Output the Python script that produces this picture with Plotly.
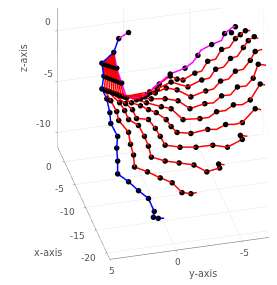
import plotly.graph_objects as go

PLANE_X = -15.0

# Every curve: y and z values. Listed from the top of the curve to its tail.
blue_y = [3.31,3.68,4.58,4.43,4.58,4.21,3.98,3.91,3.39,3.46,3.39,3.39,2.57,1.82,1.07,0.63,0.70,0.33,-0.12]
blue_z = [7.14,5.85,4.95,3.65,2.42,1.38,-0.02,-1.10,-2.46,-3.60,-4.89,-6.15,-7.07,-8.08,-8.99,-10.34,-10.90,-11.07,-11.15]
blue_skip = [18]

magenta_y = [2.57,3.31,3.68,3.46,3.09,2.72,1.60,0.98,0.70,-0.05,-0.57,-1.69,-2.28,-2.66,-2.88,-3.70,-4.45,-4.67,-5.34,-5.49]
magenta_z = [7.60,7.14,5.85,4.26,2.73,1.21,1.11,1.38,1.82,2.46,2.95,3.33,3.80,4.41,4.86,5.29,5.55,6.19,6.74,6.72]
magenta_skip = [6,8,9,12,14,16,18]

red_y = [
 [3.68,4.47,4.30,4.39,3.91,3.46,3.31,2.57,2.42,2.19,2.12,1.15,0.18,-0.72,-1.46,-2.13,-2.58],
 [3.68,4.36,4.16,4.21,3.24,2.86,2.57,1.82,1.37,1.07,0.85,-0.19,-1.24,-2.36,-3.33,-4.30,-4.22,-4.67],
 [3.68,4.24,4.03,4.02,2.79,2.27,1.97,1.07,0.55,0.18,-0.19,-1.31,-2.51,-3.78,-4.89,-6.01,-5.86,-6.39],
 [3.68,4.13,3.89,3.83,2.34,1.67,1.07,0.48,-0.27,-0.64,-1.09,-2.13,-3.40,-4.07,-4.75,-5.42,-6.01,-6.98,-7.43],
 [3.68,4.02,3.76,3.65,1.97,1.22,0.10,-0.64,-1.54,-2.81,-3.48,-4.07,-4.75,-5.34,-6.01,-6.61,-7.36,-7.73],
 [3.68,3.91,3.63,3.46,1.67,0.85,-0.19,-1.16,-2.06,-3.18,-3.85,-4.45,-5.12,-5.64,-6.31,-6.83,-7.21,-7.80],
 [3.68,3.80,3.49,3.27,1.37,0.55,-0.27,-1.09,-2.13,-3.25,-3.85,-4.37,-4.97,-5.49,-6.09,-6.61,-6.98,-7.51],
 [3.68,3.68,3.36,3.09,1.15,0.40,-0.64,-1.91,-2.95,-3.55,-4.00,-4.60,-5.12,-5.64,-6.09,-6.46,-6.91,-7.21],
 [3.68,3.57,3.22,2.90,0.98,0.25,-0.57,-1.09,-1.54,-2.43,-2.95,-3.40,-4.00,-4.45,-5.04,-5.49,-5.86,-6.24,-6.61],
]
red_z = [
 [5.85,4.88,3.57,2.30,1.14,-0.01,-0.91,-2.21,-3.41,-4.51,-5.70,-6.35,-7.12,-7.76,-8.86,-9.09,-9.07],
 [5.85,4.81,3.47,2.18,0.82,-0.02,-0.95,-1.67,-2.82,-3.84,-4.96,-5.53,-5.91,-6.31,-7.16,-6.96,-6.55,-6.72],
 [5.85,4.74,3.38,2.06,0.65,-0.04,-0.96,-1.22,-2.19,-3.04,-3.97,-4.38,-4.59,-4.62,-5.02,-4.45,-4.03,-4.22],
 [5.85,4.67,3.29,1.93,0.65,0.24,-0.25,-0.65,-1.47,-2.22,-2.88,-3.17,-3.00,-3.13,-2.76,-2.88,-2.80,-1.61,-1.79],
 [5.85,4.60,3.19,1.82,0.88,0.45,-0.14,-0.47,-1.70,-1.83,-1.85,-1.38,-1.40,-0.93,-1.05,-0.68,0.75,0.58],
 [5.85,4.54,3.11,1.70,0.92,0.77,0.59,0.22,-0.72,-0.43,-0.47,0.11,0.08,0.77,0.74,1.42,2.72,2.51],
 [5.85,4.47,3.01,1.57,1.07,1.30,1.64,1.30,0.43,0.81,0.89,1.58,1.66,2.35,2.43,3.21,4.02,4.12],
 [5.85,4.40,2.92,1.45,1.22,1.66,2.15,1.45,1.94,2.02,2.81,2.90,3.67,3.78,4.57,5.18,5.49,5.24],
 [5.85,4.33,2.82,1.34,1.48,2.13,2.75,2.36,2.19,2.71,2.81,3.70,3.79,4.68,4.76,5.55,5.87,6.19,6.12],
]
red_skip = [
 [16],
 [17],
 [17],
 [13,15,18],
 [10,12,14,17],
 [10,12,14,17],
 [10,12,14,17],
 [9,11,13,17],
 [10,12,14,18],
]
loose_y = [-5.19]
loose_z = [6.19]

x_ticks = [-20,-15,-10,-5,0]
y_ticks = [-5,0,5]
z_ticks = [-10,-5,0]
x_range = [-21.4,3.3]
y_range = [-10,5]
z_range = [-11.4,10]

# Text placed on the page: (label, centre column, centre row, font size, angle)
# The page's 8 px body margin is already taken off these columns and rows.
page_labels = [
    ("z-axis",15,50,9.6,-90),("x-axis",40,244,9.6,0),("y-axis",195,265,9.6,0),
    ("0",40,14,9,0),("-5",40,66,9,0),("-10",35,116,9,0),
    ("0",41,159,9,0),("-5",51,181,9,0),("-10",59,204,9,0),("-15",69,228,9,0),("-20",80,250,9,0),
    ("5",104,263,9,0),("0",170,254,9,0),("-5",237,245,9,0),
]

fig = go.Figure()

def add_curve(ys, zs, skip, color):
    xs = [PLANE_X]*len(ys)
    fig.add_trace(go.Scatter3d(x=xs,y=ys,z=zs,mode="lines",line=dict(color=color,width=3),hoverinfo="skip",showlegend=False))
    add_nodes(ys,zs,skip)

def add_nodes(ys, zs, skip=()):
    keep = [i for i in range(len(ys)) if i not in skip]
    fig.add_trace(go.Scatter3d(x=[PLANE_X]*len(keep),y=[ys[i] for i in keep],z=[zs[i] for i in keep],mode="markers",
                               marker=dict(color="#000000",size=3.2,line=dict(width=0)),hoverinfo="skip",showlegend=False))

for ys,zs,skip in zip(red_y,red_z,red_skip):
    add_curve(ys,zs,skip,"#ff0000")
add_curve(magenta_y,magenta_z,magenta_skip,"#ff00ff")
add_curve(blue_y,blue_z,blue_skip,"#0000ff")
add_nodes(loose_y,loose_z)

axis_common = dict(showbackground=False,showspikes=False,zeroline=False,showline=True,linecolor="#777777",linewidth=1.2,
                   gridcolor="#e6e6e6",gridwidth=1,ticks="outside",ticklen=2,tickcolor="#777777",
                   showticklabels=False,title=dict(text=""))

k = 1.0
zoom = 1.44
direction = (-0.813,0.206,0.545)
center = (-0.1588,0.3052,-0.4376)
eye = tuple(c+k*d for c,d in zip(center,direction))

fig.update_layout(
    width=277,height=285,margin=dict(l=0,r=0,t=0,b=0),paper_bgcolor="#ffffff",showlegend=False,
    scene=dict(
        domain=dict(x=[0,1],y=[0,1]),
        aspectmode="manual",aspectratio=dict(x=1.04*zoom,y=1.0*zoom,z=1.265*zoom),
        xaxis=dict(range=x_range,tickvals=x_ticks,**axis_common),
        yaxis=dict(range=y_range,tickvals=y_ticks,**axis_common),
        zaxis=dict(range=z_range,tickvals=z_ticks,**axis_common),
        camera=dict(projection=dict(type="orthographic"),up=dict(x=0,y=0,z=1),
                    center=dict(x=center[0],y=center[1],z=center[2]),
                    eye=dict(x=eye[0],y=eye[1],z=eye[2])),
    ),
    annotations=[
        dict(text=t,x=c/277,y=1-r/285,xref="paper",yref="paper",showarrow=False,textangle=a,
             xanchor="center",yanchor="middle",
             font=dict(family="DejaVu Sans",size=s,color="#555555"))
        for t,c,r,s,a in page_labels
    ],
)
fig.write_html("out.html",config=dict(displayModeBar=False))
